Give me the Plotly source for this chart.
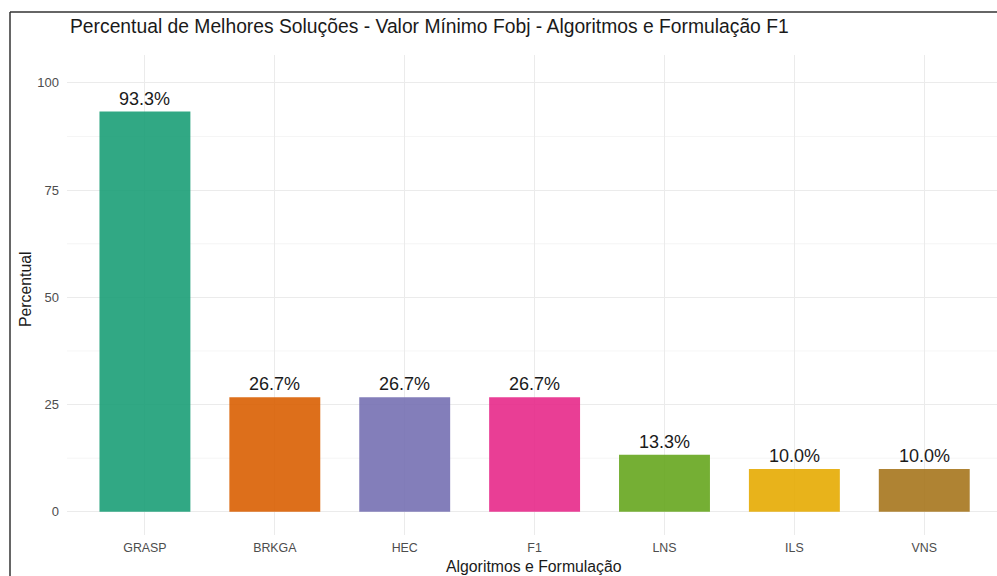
import plotly.graph_objects as go

# Percentual de melhores soluções por algoritmo / formulação
algoritmos = ["GRASP", "BRKGA", "HEC", "F1", "LNS", "ILS", "VNS"]
percentual = [93.3, 26.7, 26.7, 26.7, 13.3, 10.0, 10.0]
rotulos = ["93.3%", "26.7%", "26.7%", "26.7%", "13.3%", "10.0%", "10.0%"]
cores = ["#1B9E77", "#D95F02", "#7570B3", "#E7298A", "#66A61E", "#E6AB02", "#A6761D"]
ticks_y = [0, 25, 50, 75, 100]
ticks_y_menores = [12.5, 37.5, 62.5, 87.5]

W, H = 997, 576
ML, MR, MT, MB = 67, 0, 55, 41
PW, PH = W - ML - MR, H - MT - MB
FONT = "Liberation Sans, Arial, sans-serif"


def px_x(px):
    # pixel horizontal -> coordenada "paper"
    return (px - ML) / PW


def px_y(py):
    # pixel vertical -> coordenada "paper"
    return 1 - (py - MT) / PH


fig = go.Figure()
fig.add_trace(go.Bar(
    x=list(range(len(algoritmos))),
    y=percentual,
    marker=dict(color=cores, opacity=0.9, line=dict(width=0)),
    width=0.7,
    hoverinfo="skip",
))

annotations = []
for i, (v, r) in enumerate(zip(percentual, rotulos)):
    annotations.append(dict(
        x=i, y=v, xref="x", yref="y", text=r, showarrow=False,
        yanchor="bottom", yshift=1, font=dict(family=FONT, size=18, color="#1a1a1a"),
    ))

# título
annotations.append(dict(
    x=px_x(68), y=px_y(27), xref="paper", yref="paper",
    text="Percentual de Melhores Soluções - Valor Mínimo Fobj - Algoritmos e Formulação F1",
    showarrow=False, xanchor="left", yanchor="middle",
    font=dict(family=FONT, size=19.3, color="#1a1a1a"),
))
# títulos dos eixos
annotations.append(dict(
    x=px_x(534), y=px_y(566), xref="paper", yref="paper", text="Algoritmos e Formulação",
    showarrow=False, xanchor="center", yanchor="middle",
    font=dict(family=FONT, size=15.8, color="#1a1a1a"),
))
annotations.append(dict(
    x=px_x(25), y=px_y(289), xref="paper", yref="paper", text="Percentual",
    showarrow=False, xanchor="center", yanchor="middle", textangle=-90,
    font=dict(family=FONT, size=15.8, color="#1a1a1a"),
))

shapes = []
# linhas de grade menores
for v in ticks_y_menores:
    shapes.append(dict(type="line", xref="paper", yref="y", x0=0, x1=1, y0=v, y1=v,
                       line=dict(color="#f3f3f3", width=0.8), layer="below"))
# moldura
bx = px_x(10)
by_top = px_y(12)
by_bot = px_y(H + 5)
shapes.append(dict(type="line", xref="paper", yref="paper", x0=bx, x1=bx, y0=by_bot, y1=by_top,
                   line=dict(color="#333333", width=1.5)))
shapes.append(dict(type="line", xref="paper", yref="paper", x0=bx, x1=1.01, y0=by_top, y1=by_top,
                   line=dict(color="#333333", width=1.5)))

fig.update_layout(
    width=W, height=H,
    margin=dict(l=ML, r=MR, t=MT, b=MB, pad=0),
    plot_bgcolor="white", paper_bgcolor="white",
    showlegend=False,
    annotations=annotations,
    shapes=shapes,
    font=dict(family=FONT),
    xaxis=dict(
        range=[-0.6, 6.56],
        tickmode="array", tickvals=list(range(len(algoritmos))), ticktext=algoritmos,
        showgrid=True, gridcolor="#ebebeb", gridwidth=1,
        zeroline=False, showline=False, ticks="",
        tickfont=dict(family=FONT, size=12.4, color="#4d4d4d"),
        ticklabelstandoff=4,
    ),
    yaxis=dict(
        range=[-5.4, 106.5],
        tickmode="array", tickvals=ticks_y,
        showgrid=True, gridcolor="#ebebeb", gridwidth=1,
        zeroline=False, showline=False, ticks="",
        tickfont=dict(family=FONT, size=13, color="#4d4d4d"),
        ticklabelstandoff=7,
    ),
)

fig.write_html("out.html")
